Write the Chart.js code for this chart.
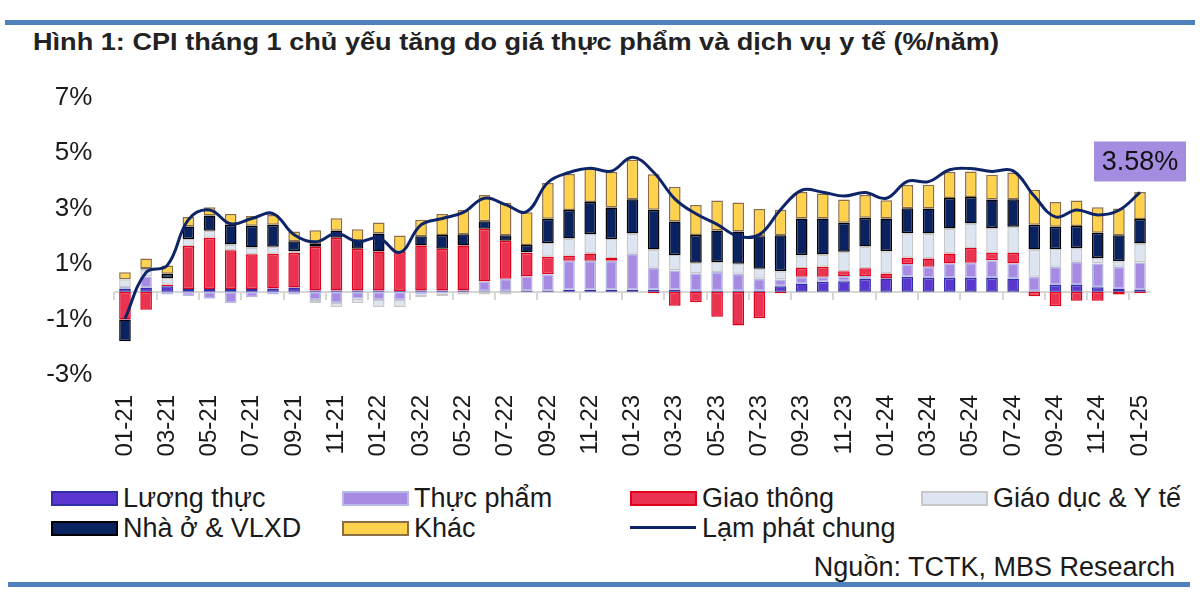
<!DOCTYPE html>
<html>
<head>
<meta charset="utf-8">
<script src="https://cdn.jsdelivr.net/npm/chart.js@4.4.1/dist/chart.umd.min.js"></script>
<style>
  body { margin: 0; background: #fff; width: 1200px; height: 593px; position: relative; overflow: hidden;
         font-family: "Liberation Sans", Arial, sans-serif; color: #1a1a1a; }
  .rule { position: absolute; height: 5px; background: #4f81bd; }
  #title { position: absolute; left: 33px; top: 28px; font-weight: bold; font-size: 24px; line-height: 28px;
           color: #222; white-space: nowrap; transform: scaleX(1.13); transform-origin: left center; }
  #chartBox { position: absolute; left: 0; top: 60px; width: 1200px; height: 410px; }
  .leg { position: absolute; height: 30px; font-size: 27px; line-height: 30px; white-space: nowrap; }
  .leg .sw { position: absolute; left: 0; top: 8px; width: 63px; height: 11px; border: 2px solid; }
  .leg .ln { position: absolute; left: 0; top: 13px; width: 66px; height: 3px; }
  .leg span { position: absolute; left: 72px; top: 0; }
  #source { position: absolute; right: 25px; top: 552px; font-size: 27px; line-height: 30px; white-space: nowrap; }
</style>
</head>
<body>
<div class="rule" style="left:5px; width:1190px; top:20px;"></div>
<div id="title">Hình 1: CPI tháng 1 chủ yếu tăng do giá thực phẩm và dịch vụ y tế (%/năm)</div>
<div id="chartBox"><canvas id="cpiChart" width="1200" height="410"></canvas></div>
<div id="legend"></div>
<div id="source">Nguồn: TCTK, MBS Research</div>
<div class="rule" style="left:8px; width:1182px; top:582px;"></div>

<script>
/***********************
 * DATA (% contribution, y/y)
 ***********************/
const months = [
  "01-21","02-21","03-21","04-21","05-21","06-21","07-21","08-21","09-21","10-21","11-21","12-21",
  "01-22","02-22","03-22","04-22","05-22","06-22","07-22","08-22","09-22","10-22","11-22","12-22",
  "01-23","02-23","03-23","04-23","05-23","06-23","07-23","08-23","09-23","10-23","11-23","12-23",
  "01-24","02-24","03-24","04-24","05-24","06-24","07-24","08-24","09-24","10-24","11-24","12-24",
  "01-25"
];

const luongThuc = [
  0.12, 0.15, 0.20, 0.10, 0.10, 0.10, 0.10, 0.12, 0.15, 0.05, 0.05, 0.05,
  0.05, 0.03, 0.05, 0.05, 0.05, 0.02, 0.02, 0.05, 0.05, 0.07, 0.07, 0.07,
  0.07, 0.07, 0.07, 0.05, 0.05, 0.05, 0.05, 0.20, 0.30, 0.36, 0.38, 0.46,
  0.48, 0.54, 0.50, 0.50, 0.50, 0.50, 0.48, 0.02, 0.24, 0.24, 0.16, 0.10,
  0.06
];

const thucPham = [
  0.05, 0.40, -0.10, -0.15, -0.25, -0.40, -0.20, -0.10, -0.10, -0.30, -0.40, -0.25,
  -0.30, -0.30, -0.10, -0.05, 0.00, 0.35, 0.45, 0.50, 0.58, 1.05, 1.05, 1.05,
  1.30, 0.80, 0.70, 0.62, 0.66, 0.60, 0.42, 0.24, 0.24, 0.18, 0.19, 0.11,
  -0.05, 0.46, 0.40, 0.52, 0.55, 0.64, 0.54, 0.52, 0.66, 0.84, 0.86, 0.80,
  1.00
];

const giaoThong = [
  -1.00, -0.65, 0.05, 1.55, 1.85, 1.40, 1.25, 1.25, 1.25, 1.57, 1.90, 1.50,
  1.40, 1.40, 1.62, 1.50, 1.62, 1.90, 1.37, 0.85, 0.63, 0.18, 0.26, 0.10,
  0.00, -0.05, -0.50, -0.38, -0.90, -1.22, -0.95, -0.05, 0.32, 0.36, 0.17, 0.28,
  0.18, 0.23, 0.30, 0.36, 0.53, 0.26, 0.38, -0.16, -0.52, -0.32, -0.32, -0.10,
  -0.05
];

const giaoDucYTe = [
  0.28, 0.25, 0.25, 0.25, 0.25, 0.20, 0.25, 0.25, 0.07, -0.10, -0.15, -0.15,
  -0.25, -0.25, -0.10, -0.10, -0.10, -0.10, -0.10, 0.02, 0.50, 0.62, 0.70, 0.68,
  0.73, 0.65, 0.56, 0.38, 0.36, 0.36, 0.36, 0.30, 0.46, 0.44, 0.70, 0.78,
  0.80, 0.88, 0.90, 0.90, 0.88, 0.90, 0.94, 0.98, 0.64, 0.50, 0.20, 0.20,
  0.68
];

const nhaOVlxd = [
  -0.78, 0.05, 0.15, 0.45, 0.55, 0.72, 0.78, 0.80, 0.35, 0.10, 0.25, 0.30,
  0.65, 0.00, 0.33, 0.50, 0.40, 0.27, 0.20, 0.27, 0.87, 1.03, 1.16, 1.14,
  1.24, 1.44, 1.20, 1.00, 1.14, 1.16, 1.17, 1.30, 1.32, 1.30, 1.05, 1.04,
  1.18, 0.90, 0.90, 1.10, 0.96, 1.03, 1.00, 0.90, 0.80, 0.79, 0.91, 0.94,
  0.88
];

const khac = [
  0.25, 0.35, 0.30, 0.35, 0.30, 0.38, 0.35, 0.35, 0.35, 0.50, 0.45, 0.40,
  0.40, 0.60, 0.60, 0.75, 0.88, 0.95, 1.17, 1.18, 1.29, 1.30, 1.20, 1.28,
  1.42, 1.28, 1.26, 1.08, 1.08, 1.05, 0.98, 0.92, 0.96, 0.90, 0.84, 0.82,
  0.66, 0.84, 0.86, 0.94, 0.92, 0.89, 0.96, 1.26, 0.90, 0.92, 0.92, 0.96,
  0.98
];

const lamPhatChung = [
  -0.97, 0.70, 0.95, 2.60, 2.95, 2.45, 2.64, 2.82, 2.06, 1.80, 2.10, 1.81,
  1.94, 1.42, 2.41, 2.64, 2.86, 3.37, 3.14, 2.89, 3.94, 4.30, 4.45, 4.35,
  4.85, 4.31, 3.35, 2.81, 2.43, 2.00, 2.06, 2.96, 3.66, 3.59, 3.45, 3.58,
  3.37, 3.98, 3.97, 4.40, 4.44, 4.34, 4.36, 3.45, 2.70, 2.95, 2.77, 2.94,
  3.58
];

const yMin = -3;
const yMax = 7;
const yStep = 2;

const seriesNames = ["Lương thực", "Thực phẩm", "Giao thông", "Giáo dục & Y tế", "Nhà ở & VLXD", "Khác"];
const seriesData = [luongThuc, thucPham, giaoThong, giaoDucYTe, nhaOVlxd, khac];
const fillColors = ["#5b36d1", "#a78be2", "#ea3350", "#dde4f2", "#0b2260", "#ffd24d"];
const edgeColors = ["#3030a4", "#b6b9e6", "#e1001c", "#c8c8c8", "#000000", "#8c6d46"];
const lineName = "Lạm phát chung";
const lineColor = "#0d2468";

const FONT = '"Liberation Sans", Arial, sans-serif';

/***********************
 * PLUGINS
 ***********************/
// grey zero line with small tick marks every second month
const zeroAxis = {
  id: "zeroAxis",
  beforeDatasetsDraw(chart) {
    const { ctx, chartArea, scales: { x, y } } = chart;
    const y0 = Math.round(y.getPixelForValue(0));
    const cw = x.width / months.length;
    ctx.save();
    ctx.strokeStyle = "#d6d6d6";
    ctx.lineWidth = 2;
    ctx.beginPath();
    ctx.moveTo(chartArea.left, y0);
    ctx.lineTo(chartArea.right, y0);
    for (let i = 0; i < months.length; i += 2) {
      const bx = Math.round(x.getPixelForValue(i) - cw / 2);
      ctx.moveTo(bx, y0);
      ctx.lineTo(bx, y0 + 8);
    }
    ctx.stroke();
    ctx.restore();
  }
};

// purple call-out with the latest headline value
const lastLabel = {
  id: "lastLabel",
  afterDatasetsDraw(chart) {
    const meta = chart.getDatasetMeta(seriesData.length);
    const pt = meta.data[meta.data.length - 1];
    const ctx = chart.ctx;
    const w = 92, h = 40;
    const cx = pt.x, cy = pt.y - 31;
    ctx.save();
    ctx.fillStyle = "#a48ce0";
    ctx.fillRect(cx - w / 2, cy - h / 2, w, h);
    ctx.fillStyle = "#111";
    ctx.font = "27px " + FONT;
    ctx.textAlign = "center";
    ctx.textBaseline = "middle";
    ctx.fillText(lamPhatChung[lamPhatChung.length - 1].toFixed(2) + "%", cx, cy + 1);
    ctx.restore();
  }
};

/***********************
 * CHART
 ***********************/
const datasets = seriesNames.map((name, i) => ({
  type: "bar",
  label: name,
  data: seriesData[i],
  backgroundColor: fillColors[i],
  borderColor: edgeColors[i],
  borderWidth: 1.5,
  borderSkipped: false,
  stack: "cpi",
  order: 1,
  categoryPercentage: 1,
  barPercentage: 0.55
}));

datasets.push({
  type: "line",
  label: lineName,
  data: lamPhatChung,
  borderColor: lineColor,
  borderWidth: 3,
  pointRadius: 0,
  tension: 0.4,
  fill: false,
  stack: "line",
  order: 0
});

new Chart(document.getElementById("cpiChart"), {
  data: { labels: months, datasets: datasets },
  options: {
    responsive: false,
    animation: false,
    layout: { padding: { left: 0, right: 49.4, top: 37, bottom: 0 } },
    plugins: { legend: { display: false }, tooltip: { enabled: false } },
    scales: {
      x: {
        stacked: true,
        offset: true,
        grid: { display: false, drawTicks: false },
        border: { display: false },
        ticks: {
          autoSkip: false,
          maxRotation: 90,
          minRotation: 90,
          padding: 20,
          color: "#1a1a1a",
          font: { size: 24, family: FONT },
          callback: (v, i) => (i % 2 === 0 ? months[i] : "")
        },
        afterFit: (s) => { s.height = 95; }
      },
      y: {
        stacked: true,
        min: yMin,
        max: yMax,
        grid: { display: false, drawTicks: false },
        border: { display: false },
        ticks: {
          stepSize: yStep,
          padding: 22,
          color: "#1a1a1a",
          font: { size: 26, family: FONT },
          callback: (v) => v + "%"
        },
        afterFit: (s) => { s.width = 114.4; }
      }
    }
  },
  plugins: [zeroAxis, lastLabel]
});

/***********************
 * LEGEND (html)
 ***********************/
const legendSpots = [[51, 483], [342, 483], [630, 483], [921, 483], [51, 513], [342, 513], [630, 513]];
const legend = document.getElementById("legend");
seriesNames.concat([lineName]).forEach((name, i) => {
  const item = document.createElement("div");
  item.className = "leg";
  item.style.left = legendSpots[i][0] + "px";
  item.style.top = legendSpots[i][1] + "px";
  if (i < seriesNames.length) {
    item.innerHTML = `<div class="sw" style="background:${fillColors[i]};border-color:${edgeColors[i]}"></div><span>${name}</span>`;
  } else {
    item.innerHTML = `<div class="ln" style="background:${lineColor}"></div><span>${name}</span>`;
  }
  legend.appendChild(item);
});
</script>
</body>
</html>
